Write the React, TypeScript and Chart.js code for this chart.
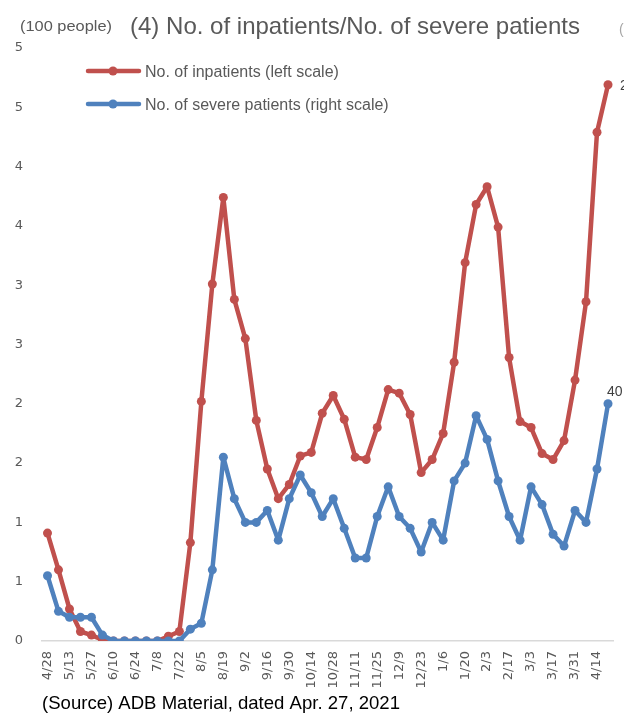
import React, { useEffect, useRef } from "react";
import { Chart, registerables } from "chart.js";

Chart.register(...registerables);

// Weekly categories (every other one is labelled)
const weeks = [
  "4/28", "5/6", "5/13", "5/20", "5/27", "6/3", "6/10", "6/17", "6/24", "7/1",
  "7/8", "7/15", "7/22", "7/29", "8/5", "8/12", "8/19", "8/26", "9/2", "9/9",
  "9/16", "9/23", "9/30", "10/7", "10/14", "10/21", "10/28", "11/4", "11/11", "11/18",
  "11/25", "12/2", "12/9", "12/16", "12/23", "12/30", "1/6", "1/13", "1/20", "1/27",
  "2/3", "2/10", "2/17", "2/24", "3/3", "3/10", "3/17", "3/24", "3/31", "4/7",
  "4/14", "4/21",
];

// No. of inpatients (100 people, left scale)
const inpatients = [
  0.91, 0.60, 0.27, 0.08, 0.05, 0.01, 0, 0, 0, 0,
  0, 0.04, 0.08, 0.83, 2.02, 3.01, 3.74, 2.88, 2.55, 1.86,
  1.45, 1.20, 1.32, 1.56, 1.59, 1.92, 2.07, 1.87, 1.55, 1.53,
  1.80, 2.12, 2.09, 1.91, 1.42, 1.53, 1.75, 2.35, 3.19, 3.68,
  3.83, 3.49, 2.39, 1.85, 1.80, 1.58, 1.53, 1.69, 2.20, 2.86,
  4.29, 4.69,
];

// No. of severe patients (people, right scale)
const severe = [
  11, 5, 4, 4, 4, 1, 0, 0, 0, 0,
  0, 0, 0, 2, 3, 12, 31, 24, 20, 20,
  22, 17, 24, 28, 25, 21, 24, 19, 14, 14,
  21, 26, 21, 19, 15, 20, 17, 27, 30, 38,
  34, 27, 21, 17, 26, 23, 18, 16, 22, 20,
  29, 40,
];

const leftMin = 0;
const leftMax = 5;
const leftStep = 0.5;
const rightMin = 0;
const rightMax = 100;

const inpatientsLastLabel = "2";
const severeLastLabel = String(severe[severe.length - 1]);

const TITLE = "(4) No. of inpatients/No. of severe patients";
const UNIT_LEFT = "(100 people)";
const UNIT_RIGHT = "(people)";
const LEGEND_RED = "No. of inpatients (left scale)";
const LEGEND_BLUE = "No. of severe patients (right scale)";
const SOURCE = "(Source) ADB Material, dated Apr. 27, 2021";

const RED = "#C0504D";
const BLUE = "#4F81BD";
const GRAY = "#595959";
const SANS = "'Liberation Sans', Arial, sans-serif";
const TICKFONT = "'DejaVu Sans', sans-serif";

function drawText(
  ctx: CanvasRenderingContext2D,
  text: string,
  x: number,
  y: number,
  font: string,
  color: string,
  width?: number
) {
  ctx.save();
  ctx.font = font;
  ctx.fillStyle = color;
  ctx.textBaseline = "middle";
  ctx.textAlign = "left";
  const w = ctx.measureText(text).width;
  const sx = width ? width / w : 1;
  ctx.translate(x, y);
  ctx.scale(sx, 1);
  ctx.fillText(text, 0, 0);
  ctx.restore();
}

function legendItem(ctx: CanvasRenderingContext2D, y: number, color: string, text: string) {
  ctx.save();
  ctx.strokeStyle = color;
  ctx.lineWidth = 4.5;
  ctx.lineCap = "round";
  ctx.beginPath();
  ctx.moveTo(88, y);
  ctx.lineTo(139, y);
  ctx.stroke();
  ctx.fillStyle = color;
  ctx.beginPath();
  ctx.arc(113, y, 4.5, 0, Math.PI * 2);
  ctx.fill();
  ctx.restore();
  drawText(ctx, text, 145, y + 1.5, `16px ${SANS}`, GRAY);
}

const textPlugin = {
  id: "texts",
  afterDraw(chart: any) {
    const ctx: CanvasRenderingContext2D = chart.ctx;
    drawText(ctx, UNIT_LEFT, 20, 27, `14px ${SANS}`, GRAY, 92);
    drawText(ctx, TITLE, 130, 27, `24px ${SANS}`, GRAY, 450);
    drawText(ctx, UNIT_RIGHT, 619, 30, `14px ${SANS}`, "#A6A6A6");
    legendItem(ctx, 71, RED, LEGEND_RED);
    legendItem(ctx, 104, BLUE, LEGEND_BLUE);
    drawText(ctx, SOURCE, 42, 704, `18.5px ${SANS}`, "#000000", 358);

    const m0 = chart.getDatasetMeta(0);
    const m1 = chart.getDatasetMeta(1);
    const pr = m0.data[m0.data.length - 1];
    const pb = m1.data[m1.data.length - 1];
    if (pr) drawText(ctx, inpatientsLastLabel, pr.x + 12, pr.y + 1, `14px ${SANS}`, "#404040");
    if (pb) drawText(ctx, severeLastLabel, pb.x - 1, pb.y - 12, `14px ${SANS}`, "#404040");
  },
};

export default function App() {
  const ref = useRef<HTMLCanvasElement | null>(null);

  useEffect(() => {
    if (!ref.current) return;
    const common = {
      borderWidth: 4.5,
      pointRadius: 4.5,
      pointBorderWidth: 0,
      tension: 0,
      borderJoinStyle: "round" as const,
      borderCapStyle: "round" as const,
    };
    const chart = new Chart(ref.current, {
      type: "line",
      data: {
        labels: weeks,
        datasets: [
          {
            label: LEGEND_RED,
            data: inpatients,
            yAxisID: "y",
            borderColor: RED,
            backgroundColor: RED,
            pointBackgroundColor: RED,
            pointBorderColor: RED,
            order: 1,
            ...common,
          },
          {
            label: LEGEND_BLUE,
            data: severe,
            yAxisID: "y1",
            borderColor: BLUE,
            backgroundColor: BLUE,
            pointBackgroundColor: BLUE,
            pointBorderColor: BLUE,
            order: 0,
            ...common,
          },
        ],
      },
      options: {
        responsive: false,
        animation: false,
        layout: { padding: { top: 48, right: 10.5, left: 0, bottom: 0 } },
        plugins: {
          legend: { display: false },
          tooltip: { enabled: false },
          title: { display: false },
        },
        scales: {
          x: {
            offset: true,
            grid: { display: false, drawTicks: false },
            border: { display: true, color: "#D9D9D9", width: 1.5 },
            ticks: {
              autoSkip: false,
              minRotation: 90,
              maxRotation: 90,
              padding: 10,
              color: GRAY,
              font: { family: TICKFONT, size: 13 },
              callback: (_v: any, i: number) => (i % 2 === 0 ? weeks[i] : ""),
            },
            afterFit: (s: any) => {
              s.height = 79;
              s.paddingLeft = 0;
              s.paddingRight = 0;
            },
          },
          y: {
            position: "left",
            min: leftMin,
            max: leftMax,
            grid: { display: false, drawTicks: false },
            border: { display: false },
            ticks: {
              stepSize: leftStep,
              padding: 19,
              color: GRAY,
              font: { family: TICKFONT, size: 13 },
              callback: (v: any) => String(Math.round(Number(v))),
            },
            afterFit: (s: any) => {
              s.width = 42;
              s.paddingTop = 0;
              s.paddingBottom = 0;
            },
          },
          y1: {
            display: false,
            position: "right",
            min: rightMin,
            max: rightMax,
          },
        },
      },
      plugins: [textPlugin],
    });
    return () => chart.destroy();
  }, []);

  return (
    <div style={{ position: "absolute", left: 0, top: 0, width: 624, height: 720, background: "#fff" }}>
      <canvas ref={ref} width={624} height={720} style={{ display: "block", width: 624, height: 720 }} />
    </div>
  );
}
